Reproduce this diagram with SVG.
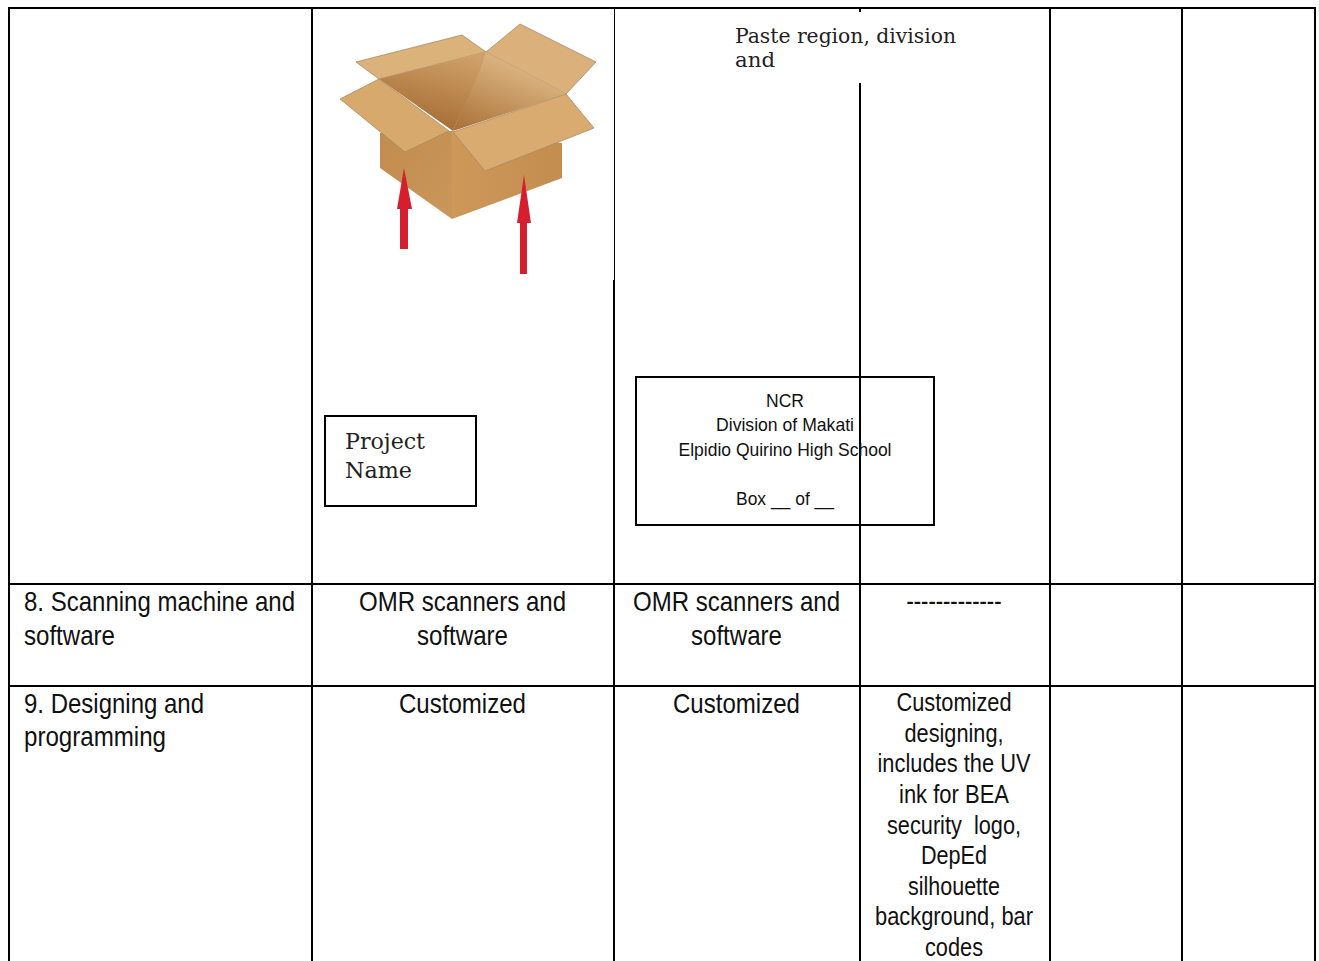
<svg xmlns="http://www.w3.org/2000/svg" width="1319" height="961" viewBox="0 0 1319 961">
<style>
.g{stroke:#000;stroke-width:2;fill:none}
.s{font-family:"Liberation Sans",Arial,sans-serif;fill:#111}
.t{font-size:28px}
.m{font-size:19px}
.c{font-size:26px}
.f{font-family:"DejaVu Serif",serif;fill:#222}
.e{stroke:#a98a62;stroke-width:.8;stroke-linejoin:round}
</style>
<defs>
<linearGradient id="ins" gradientUnits="userSpaceOnUse" x1="480" y1="55" x2="450" y2="130"><stop offset="0" stop-color="#d8b07c"/><stop offset="1" stop-color="#a86f36"/></linearGradient>
<linearGradient id="insL" gradientUnits="userSpaceOnUse" x1="470" y1="55" x2="450" y2="130"><stop offset="0" stop-color="#cfa16a"/><stop offset="1" stop-color="#a86f36"/></linearGradient>
<linearGradient id="fr" x1="0" y1="0" x2="1" y2="0"><stop offset="0" stop-color="#cd9858"/><stop offset="1" stop-color="#c28d4f"/></linearGradient>
<linearGradient id="lf" x1="0" y1="0" x2="1" y2="1"><stop offset="0" stop-color="#c18c4e"/><stop offset="1" stop-color="#cb965a"/></linearGradient>
</defs>
<rect width="1319" height="961" fill="#fff"/>
<g id="connectors">
<path class="g" d="M8 8H1316M8 584H1316M8 686H1316"/>
<path class="g" d="M9 8V961M312 8V961M614 8V961M860 8V12M860 83V961M1050 8V961M1182 8V961M1315 8V961"/>
</g>
<g id="box">
<rect x="330" y="12" width="284" height="268" fill="#fff"/>
<path class="e" d="M356 62L462 35L486 52L379 79Z" fill="#dcb27b"/>
<path class="e" d="M486 52L520 24L596 62L566 94Z" fill="#dbb07a"/>
<path d="M486 52L566 94L453 131Z" fill="url(#ins)"/>
<path d="M379 79L486 52L480 70L453 131Z" fill="url(#insL)"/>
<path d="M380 133L452 131V219L380 168Z" fill="url(#lf)"/>
<path d="M451.500 131L562 143V178L452 219Z" fill="url(#fr)"/>
<path class="e" d="M340 99L379 79L449 131L405 152Z" fill="#d8a96d"/>
<path class="e" d="M453 132L566 94L594 128L485 171Z" fill="#d9ab70"/>
<path d="M404 168L412 209H408V249H400V209H397Z" fill="#d61f2e"/>
<path d="M524 175L531 223H527V274H520V223H517Z" fill="#d61f2e"/>
<rect x="600" y="9" width="14" height="271" fill="#fff"/>
</g>
<g id="project-name">
<rect x="325" y="416" width="151" height="90" fill="#fff" stroke="#000" stroke-width="2"/>
<text class="f" x="345" y="449" font-size="23" textLength="80" lengthAdjust="spacingAndGlyphs">Project</text>
<text class="f" x="345" y="478" font-size="23" textLength="67" lengthAdjust="spacingAndGlyphs">Name</text>
</g>
<g id="paste-note">
<text class="f" x="735" y="43" font-size="20" textLength="221" lengthAdjust="spacingAndGlyphs">Paste region, division</text>
<text class="f" x="735" y="67" font-size="20" textLength="40" lengthAdjust="spacingAndGlyphs">and</text>
</g>
<g id="label-box">
<rect x="636" y="377" width="298" height="148" fill="none" stroke="#000" stroke-width="2"/>
<g class="s m" text-anchor="middle">
<text x="785" y="407" textLength="38" lengthAdjust="spacingAndGlyphs">NCR</text>
<text x="785" y="431" textLength="138" lengthAdjust="spacingAndGlyphs">Division of Makati</text>
<text x="785" y="456" textLength="213" lengthAdjust="spacingAndGlyphs">Elpidio Quirino High School</text>
<text x="785" y="505" textLength="98" lengthAdjust="spacingAndGlyphs">Box __ of __</text>
</g>
</g>
<g id="row-8" class="s t">
<text x="24" y="611" textLength="271" lengthAdjust="spacingAndGlyphs">8. Scanning machine and</text>
<text x="24" y="645" textLength="91" lengthAdjust="spacingAndGlyphs">software</text>
<g text-anchor="middle">
<text x="462.500" y="611" textLength="207" lengthAdjust="spacingAndGlyphs">OMR scanners and</text>
<text x="462.500" y="645" textLength="91" lengthAdjust="spacingAndGlyphs">software</text>
<text x="736.500" y="611" textLength="207" lengthAdjust="spacingAndGlyphs">OMR scanners and</text>
<text x="736.500" y="645" textLength="91" lengthAdjust="spacingAndGlyphs">software</text>
<text x="954" y="608" textLength="95" lengthAdjust="spacingAndGlyphs" class="m" font-weight="bold">-------------</text>
</g>
</g>
<g id="row-9" class="s">
<text class="t" x="24" y="713" textLength="180" lengthAdjust="spacingAndGlyphs">9. Designing and</text>
<text class="t" x="24" y="746" textLength="142" lengthAdjust="spacingAndGlyphs">programming</text>
<g text-anchor="middle">
<text class="t" x="462.500" y="713" textLength="127" lengthAdjust="spacingAndGlyphs">Customized</text>
<text class="t" x="736.500" y="713" textLength="127" lengthAdjust="spacingAndGlyphs">Customized</text>
<g class="c">
<text x="954" y="711" textLength="115" lengthAdjust="spacingAndGlyphs">Customized</text>
<text x="954" y="742" textLength="99" lengthAdjust="spacingAndGlyphs">designing,</text>
<text x="954" y="772" textLength="153" lengthAdjust="spacingAndGlyphs">includes the UV</text>
<text x="954" y="803" textLength="110" lengthAdjust="spacingAndGlyphs">ink for BEA</text>
<text x="954" y="834" textLength="134" lengthAdjust="spacingAndGlyphs" xml:space="preserve">security  logo,</text>
<text x="954" y="864" textLength="66" lengthAdjust="spacingAndGlyphs">DepEd</text>
<text x="954" y="895" textLength="92" lengthAdjust="spacingAndGlyphs">silhouette</text>
<text x="954" y="925" textLength="158" lengthAdjust="spacingAndGlyphs">background, bar</text>
<text x="954" y="956" textLength="58" lengthAdjust="spacingAndGlyphs">codes</text>
</g>
</g>
</g>
</svg>
